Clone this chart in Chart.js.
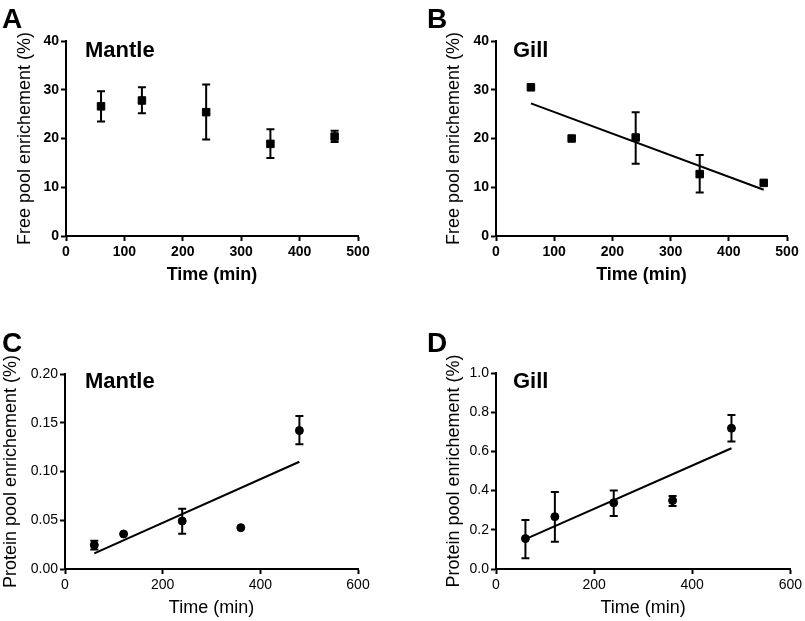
<!DOCTYPE html>
<html>
<head>
<meta charset="utf-8">
<script src="https://cdn.jsdelivr.net/npm/chart.js@4/dist/chart.umd.min.js"></script>
<style>
  html, body { margin: 0; padding: 0; background: #fff; }
  body { width: 805px; height: 621px; position: relative; overflow: hidden; font-family: "Liberation Sans", Arial, sans-serif; }
  .box { position: absolute; }
  .letter { position: absolute; font: bold 28px "Liberation Sans", Arial, sans-serif; color: #000; line-height: 1; }
  .ptitle { position: absolute; font: bold 22px "Liberation Sans", Arial, sans-serif; color: #000; line-height: 1; }
</style>
</head>
<body>
<div class="box" style="left:0;top:0;width:402px;height:310px"><canvas id="cA"></canvas></div>
<div class="box" style="left:402px;top:0;width:403px;height:310px"><canvas id="cB"></canvas></div>
<div class="box" style="left:0;top:310px;width:402px;height:311px"><canvas id="cC"></canvas></div>
<div class="box" style="left:402px;top:310px;width:403px;height:311px"><canvas id="cD"></canvas></div>
<div class="letter" style="left:2px;top:5px">A</div>
<div class="letter" style="left:427px;top:5px">B</div>
<div class="letter" style="left:2px;top:329px">C</div>
<div class="letter" style="left:427px;top:329px">D</div>
<div class="ptitle" style="left:85px;top:39px">Mantle</div>
<div class="ptitle" style="left:513px;top:39px">Gill</div>
<div class="ptitle" style="left:85px;top:370px">Mantle</div>
<div class="ptitle" style="left:513px;top:370px">Gill</div>
<script>
// ---- Data ----
const freeTimes = [60, 130, 240, 350, 460];
const mantleFree = [26.6, 27.8, 25.4, 18.9, 20.4];
const mantleFreeLow = [23.5, 25.2, 19.8, 16.0, 19.3];
const mantleFreeHigh = [29.7, 30.5, 31.1, 21.9, 21.6];

const gillFree = [30.5, 20.0, 20.2, 12.7, 10.9];
const gillFreeLow = [null, null, 14.8, 8.9, null];
const gillFreeHigh = [null, null, 25.4, 16.6, null];
const gillFreeFitX = [60, 460];
const gillFreeFitY = [27.2, 9.5];

const proteinTimes = [60, 120, 240, 360, 480];
const mantleProt = [0.0246, 0.0359, 0.0492, 0.0424, 0.1420];
const mantleProtLow = [0.020, null, 0.0362, null, 0.128];
const mantleProtHigh = [0.029, null, 0.0619, null, 0.157];
const mantleProtFitX = [60, 480];
const mantleProtFitY = [0.016, 0.110];

const gillProt = [0.155, 0.267, 0.338, 0.349, 0.718];
const gillProtLow = [0.055, 0.139, 0.27, 0.321, 0.65];
const gillProtHigh = [0.25, 0.393, 0.40, 0.372, 0.786];
const gillProtFitX = [60, 480];
const gillProtFitY = [0.152, 0.616];

const freeXTicks = [0, 100, 200, 300, 400, 500];
const freeYTicks = [0, 10, 20, 30, 40];
const protXTicks = [0, 200, 400, 600];
const mantleProtYTicks = [0, 0.05, 0.10, 0.15, 0.20];
const gillProtYTicks = [0, 0.2, 0.4, 0.6, 0.8, 1.0];

const FONT = '"Liberation Sans", Arial, sans-serif';

// error bar plugin: draws through the chart's own scales
const errorBars = {
  id: 'errorBars',
  afterDatasetsDraw(chart) {
    const ctx = chart.ctx;
    const xs = chart.scales.x, ys = chart.scales.y;
    chart.data.datasets.forEach((ds) => {
      if (!ds.errLow) return;
      ctx.save();
      ctx.strokeStyle = '#000';
      ctx.lineWidth = 2;
      ds.data.forEach((p, i) => {
        const lo = ds.errLow[i], hi = ds.errHigh[i];
        if (lo == null || hi == null) return;
        const px = xs.getPixelForValue(p.x);
        const pl = ys.getPixelForValue(lo);
        const ph = ys.getPixelForValue(hi);
        ctx.beginPath();
        ctx.moveTo(px, pl); ctx.lineTo(px, ph);
        ctx.moveTo(px - 4, pl); ctx.lineTo(px + 4, pl);
        ctx.moveTo(px - 4, ph); ctx.lineTo(px + 4, ph);
        ctx.stroke();
      });
      ctx.restore();
    });
  }
};

function pts(xs, ys) { return xs.map((x, i) => ({x: x, y: ys[i]})); }

function makeChart(id, cfg) {
  const datasets = [{
    type: 'scatter',
    data: pts(cfg.times, cfg.values),
    errLow: cfg.low, errHigh: cfg.high,
    pointStyle: cfg.square ? 'rect' : 'circle',
    pointRadius: cfg.square ? 5.3 : 4,
    pointBorderWidth: 1,
    pointBackgroundColor: '#000',
    pointBorderColor: '#000',
    showLine: false,
    order: 1
  }];
  if (cfg.fitX) {
    datasets.push({
      type: 'line',
      data: pts(cfg.fitX, cfg.fitY),
      borderColor: '#000',
      borderWidth: 2,
      pointRadius: 0,
      fill: false,
      tension: 0,
      order: 2
    });
  }
  const bold = cfg.boldTicks;
  return new Chart(document.getElementById(id), {
    type: 'scatter',
    data: { datasets: datasets },
    plugins: [errorBars],
    options: {
      responsive: true,
      maintainAspectRatio: false,
      animation: false,
      events: [],
      layout: { padding: cfg.padding },
      plugins: { legend: { display: false }, tooltip: { enabled: false } },
      scales: {
        x: {
          type: 'linear',
          min: cfg.xTicks[0], max: cfg.xTicks[cfg.xTicks.length - 1],
          afterBuildTicks: (s) => { s.ticks = cfg.xTicks.map(v => ({value: v})); },
          afterFit: (s) => { s.height = cfg.xHeight; },
          grid: { drawOnChartArea: false, drawTicks: true, tickLength: 5, tickWidth: 2, tickColor: '#000' },
          border: { color: '#000', width: 2 },
          ticks: { color: '#000', padding: 3, maxRotation: 0, autoSkip: false,
                   font: { family: FONT, size: 14, weight: bold ? 'bold' : 'normal' },
                   callback: (v) => String(v) },
          title: { display: true, text: 'Time (min)', color: '#000',
                   font: { family: FONT, size: 18, weight: bold ? 'bold' : 'normal', lineHeight: 1.2 },
                   padding: { top: 0, bottom: cfg.xTitlePad } }
        },
        y: {
          type: 'linear',
          min: cfg.yTicks[0], max: cfg.yTicks[cfg.yTicks.length - 1],
          afterBuildTicks: (s) => { s.ticks = cfg.yTicks.map(v => ({value: v})); },
          afterFit: (s) => { s.width = cfg.yWidth; },
          grid: { drawOnChartArea: false, drawTicks: true, tickLength: 5, tickWidth: 2, tickColor: '#000' },
          border: { color: '#000', width: 2 },
          ticks: { color: '#000', padding: 2, autoSkip: false,
                   font: { family: FONT, size: 14, weight: bold ? 'bold' : 'normal' },
                   callback: (v) => v.toFixed(cfg.yDecimals) },
          title: { display: true, text: cfg.yTitle, color: '#000',
                   font: { family: FONT, size: 18, weight: 'normal', lineHeight: 1.2 },
                   padding: { top: cfg.yTitlePad, bottom: 0 } }
        }
      }
    }
  });
}

makeChart('cA', {
  times: freeTimes, values: mantleFree, low: mantleFreeLow, high: mantleFreeHigh,
  square: true, boldTicks: true, xTicks: freeXTicks, yTicks: freeYTicks, yDecimals: 0,
  yTitle: 'Free pool enrichement (%)',
  padding: { left: 0, top: 41, right: 44, bottom: 0 }, yWidth: 66, xHeight: 74,
  xTitlePad: 24, yTitlePad: 14
});
makeChart('cB', {
  times: freeTimes, values: gillFree, low: gillFreeLow, high: gillFreeHigh,
  fitX: gillFreeFitX, fitY: gillFreeFitY,
  square: true, boldTicks: true, xTicks: freeXTicks, yTicks: freeYTicks, yDecimals: 0,
  yTitle: 'Free pool enrichement (%)',
  padding: { left: 0, top: 41, right: 18, bottom: 0 }, yWidth: 94, xHeight: 74,
  xTitlePad: 24, yTitlePad: 41
});
makeChart('cC', {
  times: proteinTimes, values: mantleProt, low: mantleProtLow, high: mantleProtHigh,
  fitX: mantleProtFitX, fitY: mantleProtFitY,
  square: false, boldTicks: false, xTicks: protXTicks, yTicks: mantleProtYTicks, yDecimals: 2,
  yTitle: 'Protein pool enrichement (%)',
  padding: { left: 0, top: 64, right: 44, bottom: 0 }, yWidth: 65, xHeight: 52,
  xTitlePad: 2, yTitlePad: 0
});
makeChart('cD', {
  times: proteinTimes, values: gillProt, low: gillProtLow, high: gillProtHigh,
  fitX: gillProtFitX, fitY: gillProtFitY,
  square: false, boldTicks: false, xTicks: protXTicks, yTicks: gillProtYTicks, yDecimals: 1,
  yTitle: 'Protein pool enrichement (%)',
  padding: { left: 0, top: 63, right: 13, bottom: 0 }, yWidth: 94, xHeight: 52,
  xTitlePad: 2, yTitlePad: 41
});
</script>
</body>
</html>
